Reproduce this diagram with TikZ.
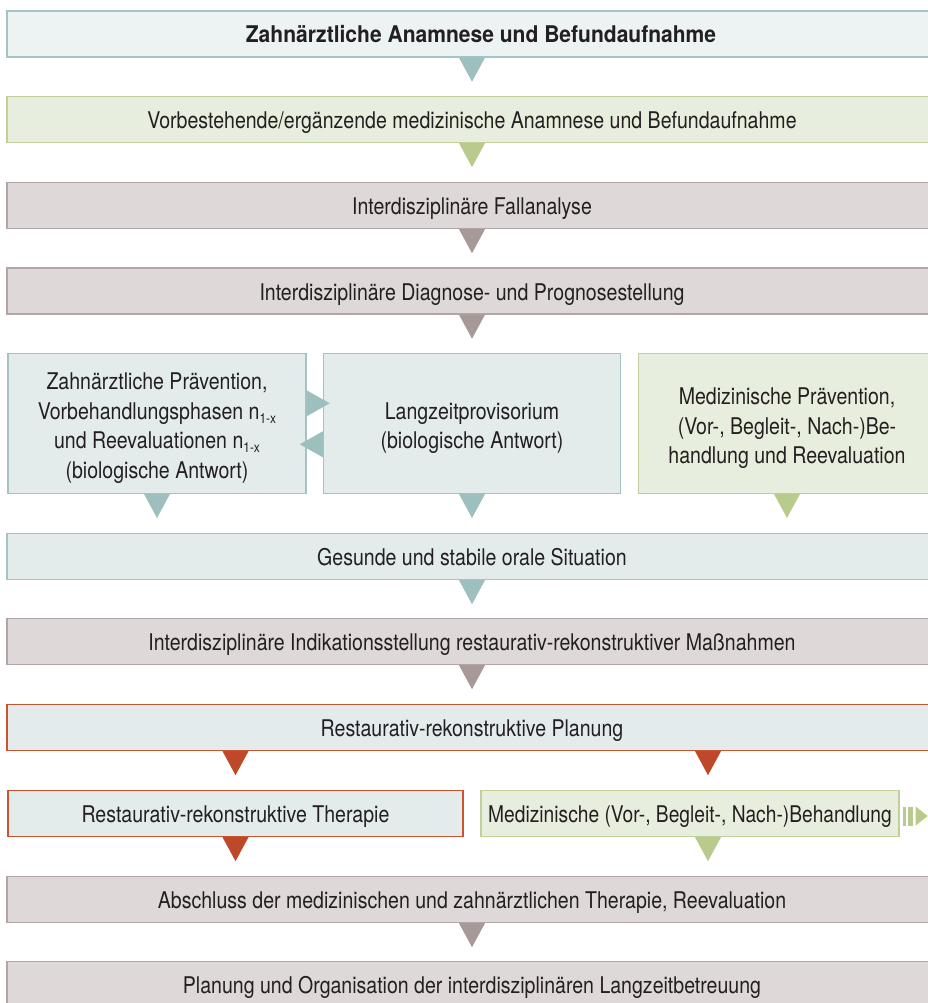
\documentclass[tikz,border=0pt]{standalone}
\usepackage{fontspec}
\setmainfont{TeX Gyre Heros}[FakeStretch=0.85, BoldFeatures={FakeStretch=0.915}]
\usetikzlibrary{calc}
\definecolor{tealfillA}{HTML}{EDF3F3}
\definecolor{tealfill}{HTML}{E3EBEB}
\definecolor{tealline}{HTML}{A3C4C4}
\definecolor{tealarrow}{HTML}{9DBFBE}
\definecolor{greenfill}{HTML}{E8EEDD}
\definecolor{greenline}{HTML}{BFD098}
\definecolor{greenarrow}{HTML}{B9CB8C}
\definecolor{mauvefill}{HTML}{DFD8D8}
\definecolor{mauveline}{HTML}{B3A5A5}
\definecolor{mauvearrow}{HTML}{A89999}
\definecolor{redline}{HTML}{C8552F}
\definecolor{redarrow}{HTML}{C0482A}
\definecolor{txt}{HTML}{231F20}
\newcommand\downtri[2]{\fill[#2] ($#1+(-13,0)$) -- ($#1+(13,0)$) -- ($#1+(0,24)$) -- cycle;}
\newcommand\nsub{n\raisebox{-0.3ex}{\fontsize{14}{14}\selectfont 1-x}}
\begin{document}
\begin{tikzpicture}[x=1pt,y=-1pt,
  box/.style={rectangle, line width=1.4pt, minimum height=46pt, inner sep=0pt,
    text=txt, align=center, font=\fontsize{23}{29.5}\selectfont},
  oneline/.style={text height=18pt, text depth=0pt},
  lbl/.style={inner sep=0pt, text=txt, align=center, font=\fontsize{23}{29.5}\selectfont},
  tealbox/.style={box, fill=tealfill, draw=tealline},
  greenbox/.style={box, fill=greenfill, draw=greenline},
  mauvebox/.style={box, fill=mauvefill, draw=mauveline},
  redbox/.style={box, fill=tealfill, draw=redline}]
\useasboundingbox (0,0) rectangle (928,1003);
\begin{scope}
\clip (0,0) rectangle (928,1003);
\node[tealbox, oneline, fill=tealfillA, minimum width=930pt] (b1) at (472,34) {\hspace{18pt}\bfseries Zahnärztliche Anamnese und Befundaufnahme};
\node[greenbox, oneline, minimum width=930pt] (b2) at (472,119.5) {Vorbestehende/ergänzende medizinische Anamnese und Befundaufnahme};
\node[mauvebox, oneline, minimum width=930pt] (b3) at (472,205.5) {Interdisziplinäre Fallanalyse};
\node[mauvebox, oneline, minimum width=930pt] (b4) at (472,291) {Interdisziplinäre Diagnose- und Prognosestellung};
\node[tealbox, minimum width=298pt, minimum height=140pt] (b5a) at (157,423.3) {};
\node[tealbox, minimum width=297pt, minimum height=140pt] (b5b) at (472,423.3) {};
\node[greenbox, minimum width=297pt, minimum height=140pt] (b5c) at (787,423.3) {};
\node[lbl] (t5a) at ($(b5a.center)+(0,5)$) {Zahnärztliche Prävention,\\Vorbehandlungsphasen \nsub\\und Reevaluationen \nsub\\(biologische Antwort)};
\node[lbl] (t5b) at ($(b5b.center)+(0,5)$) {Langzeitprovisorium\\(biologische Antwort)};
\node[lbl] (t5c) at ($(b5c.center)+(0,5)$) {Medizinische Prävention,\\(Vor-, Begleit-, Nach-)Be-\\handlung und Reevaluation};
\node[tealbox, oneline, minimum width=930pt] (b6) at (472,556.5) {Gesunde und stabile orale Situation};
\node[mauvebox, oneline, minimum width=930pt] (b7) at (472,641.5) {Interdisziplinäre Indikationsstellung restaurativ-rekonstruktiver Maßnahmen};
\node[redbox, oneline, minimum width=930pt] (b8) at (472,727.5) {Restaurativ-rekonstruktive Planung};
\node[redbox, oneline, minimum width=455pt] (b9a) at (235.5,813.5) {Restaurativ-rekonstruktive Therapie};
\node[greenbox, oneline, minimum width=418pt] (b9b) at (690,813.5) {\addfontfeatures{FakeStretch=0.835}Medizinische (Vor-, Begleit-, Nach-)Behandlung};
\node[mauvebox, oneline, minimum width=930pt] (b10) at (472,899.5) {Abschluss der medizinischen und zahnärztlichen Therapie, Reevaluation};
\node[mauvebox, oneline, minimum width=930pt] (b11) at (472,984.5) {Planung und Organisation der interdisziplinären Langzeitbetreuung};
% downward markers
\downtri{(b1.south)}{tealarrow}
\downtri{(b2.south)}{greenarrow}
\downtri{(b3.south)}{mauvearrow}
\downtri{(b4.south)}{mauvearrow}
\downtri{(b5a.south)}{tealarrow}
\downtri{(b5b.south)}{tealarrow}
\downtri{(b5c.south)}{greenarrow}
\downtri{(b6.south)}{tealarrow}
\downtri{(b7.south)}{mauvearrow}
\coordinate (p1) at (b8.south -| b9a.south);
\coordinate (p2) at ($(b8.south)+(236,0)$);
\downtri{(p1)}{redarrow}
\downtri{(p2)}{redarrow}
\downtri{(b9a.south)}{redarrow}
\coordinate (p3) at (b9b.south -| p2);
\downtri{(p3)}{greenarrow}
\downtri{(b10.south)}{mauvearrow}
% horizontal markers between row 5 boxes
\coordinate (h1) at ($(b5a.east)+(0,-20)$);
\coordinate (h2) at ($(b5b.west)+(0,21)$);
\fill[tealarrow] ($(h1)+(0,-13)$) -- ($(h1)+(0,13)$) -- ($(h1)+(23,0)$) -- cycle;
\fill[tealarrow] ($(h2)+(0,-13)$) -- ($(h2)+(0,13)$) -- ($(h2)+(-23,0)$) -- cycle;
% striped arrow right of green box
\coordinate (s) at (b9b.east);
\fill[greenarrow] ($(s)+(3,-7)$) rectangle ($(s)+(6,12)$);
\fill[greenarrow] ($(s)+(8,-7)$) rectangle ($(s)+(13,12)$);
\fill[greenarrow] ($(s)+(16,-7)$) -- ($(s)+(16,12)$) -- ($(s)+(28,2.5)$) -- cycle;
\end{scope}
\end{tikzpicture}
\end{document}
